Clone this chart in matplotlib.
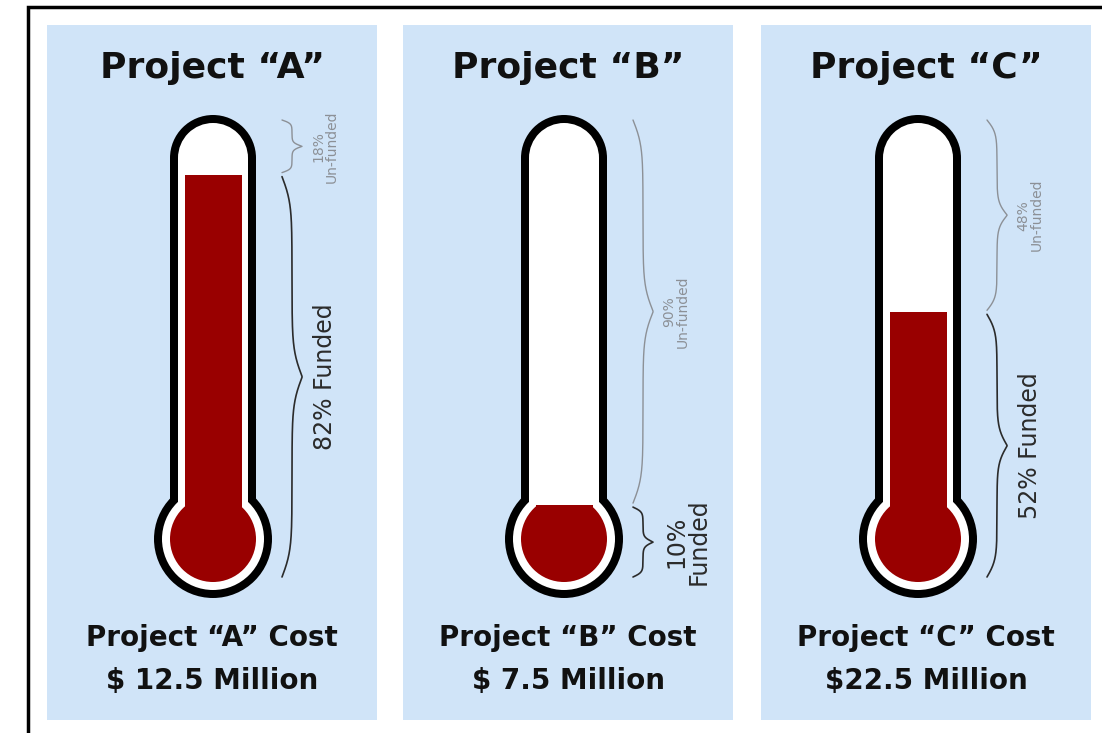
import numpy as np
import matplotlib.pyplot as plt
from matplotlib.patches import Rectangle, Circle

#### Data
projects = ['A', 'B', 'C']
funded_pct = [82, 10, 52]
costs = ['$ 12.5 Million', '$ 7.5 Million', '$22.5 Million']

#### Layout (pixel units)
W, H = 1102, 733
panel_left = [47, 403, 761]
panel_w = 330
panel_top, panel_bot = 25, 720
thermo_cx = [213, 564, 918]

tube_top = 115      # outer top of tube
tube_r = 43         # outer half width of tube
edge = 8            # black outline thickness
bulb_cy = 539
bulb_r = 59
red_half = 28.5
red_r = 43
# fill level mapping: y = lvl0 - lvl_len * pct
lvl0, lvl_len = 551, 459

bg_panel = '#d0e4f8'
red = '#990000'
dark = '#2b2b2b'
grey = '#8c9096'


def brace(ax, x0, y1, y2, w, color, lw):
    # curly brace "}" spanning y1..y2, pointing right
    t = np.linspace(0, 0.5, 200)
    beta = 30
    half = 1 / (1 + np.exp(-beta * (t - t[0]))) + 1 / (1 + np.exp(-beta * (t - t[-1])))
    full = np.concatenate([half, half[::-1]])
    full = (full - full.min()) / (full.max() - full.min())
    ys = np.linspace(y1, y2, len(full))
    ax.plot(x0 + w * full, ys, color=color, lw=lw, solid_capstyle='round')
    return x0 + w, (y1 + y2) / 2


fig = plt.figure(figsize=(W / 100, H / 100), dpi=100)
ax = fig.add_axes([0, 0, 1, 1])
ax.set_xlim(0, W)
ax.set_ylim(H, 0)
ax.set_aspect('equal')
ax.axis('off')

# frame lines (top and left)
ax.plot([28, 28, W + 5], [H + 5, 7, 7], color='black', lw=2.5, solid_joinstyle='miter')

for i, p in enumerate(projects):
    px = panel_left[i]
    cx = thermo_cx[i]
    pct = funded_pct[i]
    level = lvl0 - lvl_len * pct / 100

    ax.add_patch(Rectangle((px, panel_top), panel_w, panel_bot - panel_top,
                           facecolor=bg_panel, edgecolor='none', zorder=0))

    # black outline
    ax.add_patch(Rectangle((cx - tube_r, tube_top + tube_r), 2 * tube_r, bulb_cy - tube_top - tube_r,
                           facecolor='black', edgecolor='none', zorder=1))
    ax.add_patch(Circle((cx, tube_top + tube_r), tube_r, facecolor='black', edgecolor='none', zorder=1))
    ax.add_patch(Circle((cx, bulb_cy), bulb_r, facecolor='black', edgecolor='none', zorder=1))
    # white inside
    r_in = tube_r - edge
    ax.add_patch(Rectangle((cx - r_in, tube_top + tube_r), 2 * r_in, bulb_cy - tube_top - tube_r,
                           facecolor='white', edgecolor='none', zorder=2))
    ax.add_patch(Circle((cx, tube_top + tube_r), r_in, facecolor='white', edgecolor='none', zorder=2))
    ax.add_patch(Circle((cx, bulb_cy), bulb_r - edge, facecolor='white', edgecolor='none', zorder=2))
    # red fill, clipped at the funding level
    clip = Rectangle((cx - bulb_r, level), 2 * bulb_r, H - level, transform=ax.transData)
    r1 = ax.add_patch(Rectangle((cx - red_half, level), 2 * red_half, bulb_cy - level,
                                facecolor=red, edgecolor='none', zorder=3))
    r2 = ax.add_patch(Circle((cx, bulb_cy), red_r, facecolor=red, edgecolor='none', zorder=3))
    r1.set_clip_path(clip)
    r2.set_clip_path(clip)

    # braces
    bx = cx + tube_r + 26
    tx, ty = brace(ax, bx, 120, level - 2, 20, grey, 1.0)
    ax.text(tx + 9, ty, f'{100 - pct}%\nUn-funded', rotation=90, ha='left', va='center',
            multialignment='center', fontsize=10, color=grey, linespacing=0.95)
    tx, ty = brace(ax, bx, level + 2, 577, 20, dark, 1.2)
    if pct < 25:
        label = f'{pct}%\nFunded'
    else:
        label = f'{pct}% Funded'
    ax.text(tx + 11, ty, label, rotation=90, ha='left', va='center',
            multialignment='center', fontsize=17, color=dark, linespacing=0.95)

    # titles
    mid = px + panel_w / 2
    ax.text(mid, 68, f'Project \u201c{p}\u201d', ha='center', va='center',
            fontsize=26, fontweight='bold', color='#111111')
    ax.text(mid, 638, f'Project \u201c{p}\u201d Cost', ha='center', va='center',
            fontsize=20, fontweight='bold', color='#111111')
    ax.text(mid, 681, costs[i], ha='center', va='center',
            fontsize=20, fontweight='bold', color='#111111')

fig.savefig('out.png', dpi=100, facecolor='white')
